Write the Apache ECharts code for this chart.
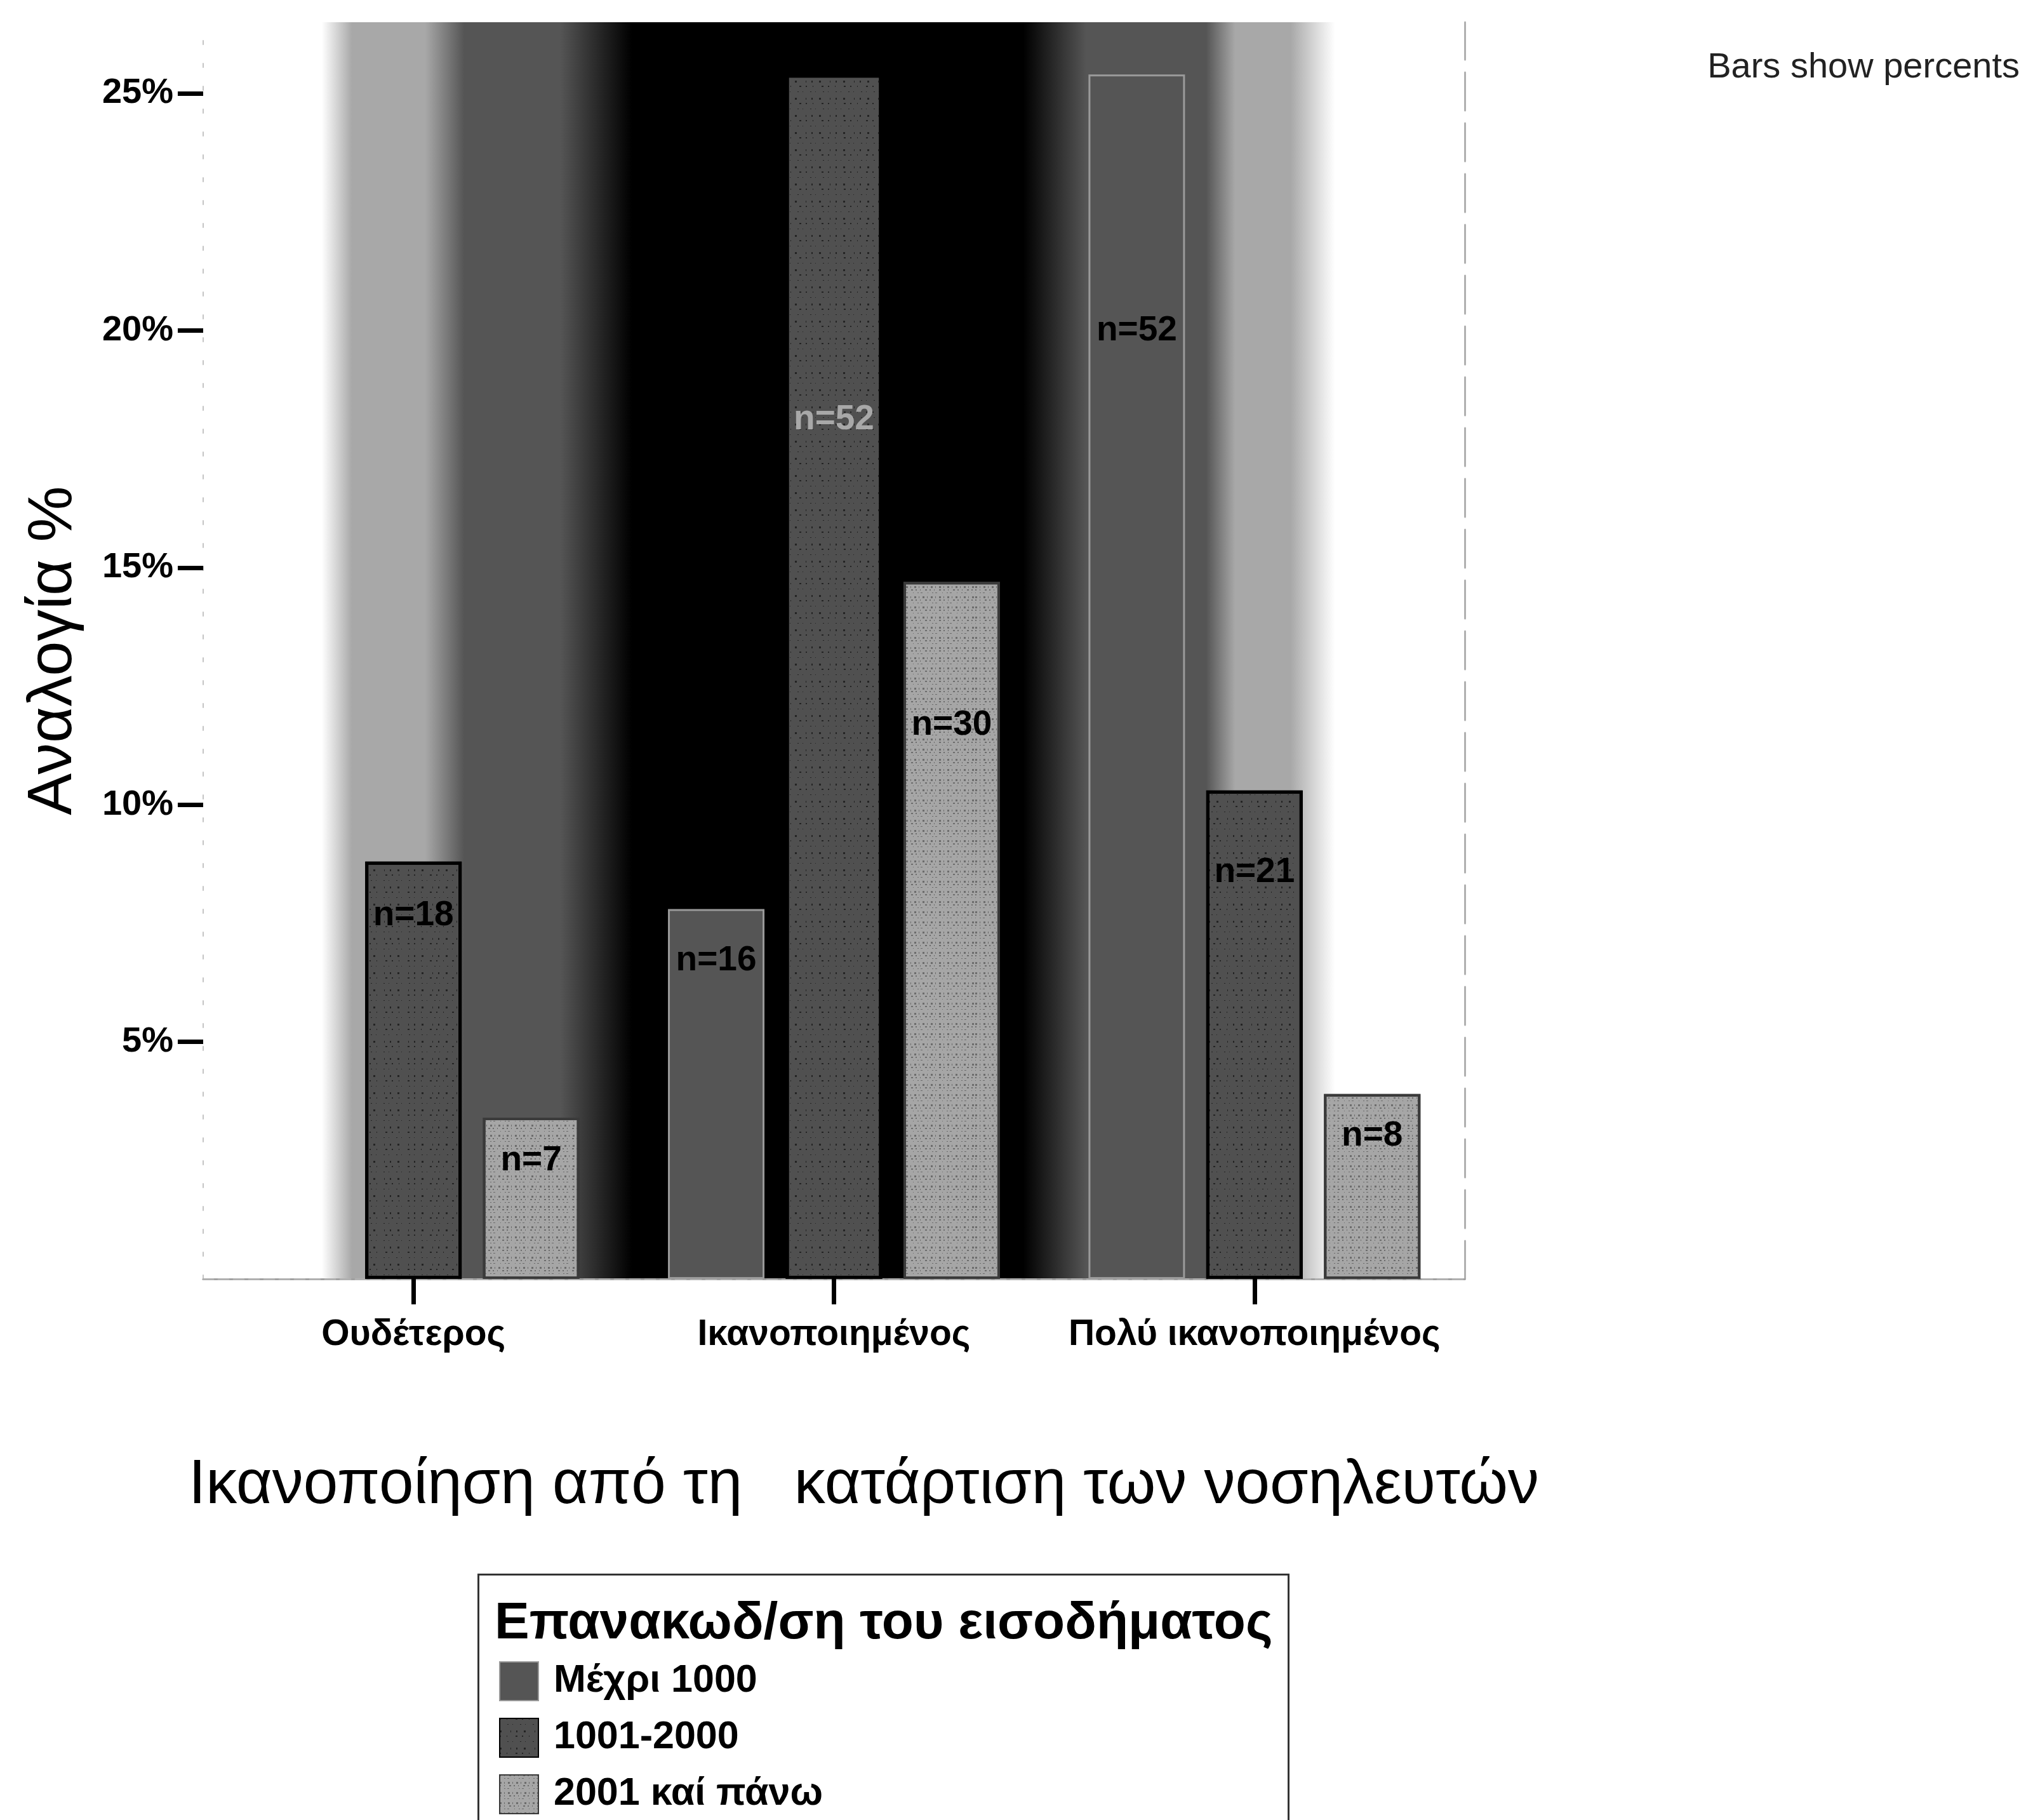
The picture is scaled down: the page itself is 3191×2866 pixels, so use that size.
<!DOCTYPE html>
<html>
<head>
<meta charset="utf-8">
<script src="https://cdn.jsdelivr.net/npm/echarts@6/dist/echarts.min.js"></script>
<style>
  html, body { margin: 0; padding: 0; background: #ffffff; }
  #chart { width: 3191px; height: 2866px; }
</style>
</head>
<body>
<div id="chart"></div>
<script>
// ---- data ----
const categories = ['Ουδέτερος', 'Ικανοποιημένος', 'Πολύ ικανοποιημένος'];
const seriesNames = ['Μέχρι 1000', '1001-2000', '2001 καί πάνω'];
const pctUpTo1000 = [null, 7.8, 25.4];
const pct1001to2000 = [8.8, 25.4, 10.3];
const pct2001up = [3.4, 14.7, 3.9];
const nUpTo1000 = [null, 16, 52];
const n1001to2000 = [18, 52, 21];
const n2001up = [7, 30, 8];
const yTickValues = [5, 10, 15, 20, 25];

// ---- styling (label drop below bar top, px; label colours) ----
const dropUpTo1000 = [0, 81, 404];
const drop1001to2000 = [85, 544, 129];
const drop2001up = [68, 226, 66];
const labelColUpTo1000 = ['#000', '#000', '#000'];
const labelCol1001to2000 = ['#000', '#a8a8a8', '#000'];
const labelCol2001up = ['#000', '#000', '#000'];

const FONT = '"Liberation Sans", Arial, sans-serif';
const LABEL_SIZE = 55;

function buildData(values, drops, cols) {
  return values.map((v, i) => v == null ? '-' : {
    value: v,
    label: { distance: drops[i] - LABEL_SIZE / 2, color: cols[i] }
  });
}

function barSeries(name, values, counts, drops, cols, fill, border, bw, decal) {
  const s = {
    name: name,
    type: 'bar',
    barWidth: 152,
    barGap: '22%',
    data: buildData(values, drops, cols),
    itemStyle: { color: fill, borderColor: border, borderWidth: bw },
    label: {
      show: true,
      position: 'insideTop',
      formatter: p => 'n=' + counts[p.dataIndex],
      fontSize: LABEL_SIZE,
      fontWeight: 'bold',
      fontFamily: FONT,
      color: '#000'
    }
  };
  if (decal) s.itemStyle.decal = decal;
  return s;
}

const chart = echarts.init(document.getElementById('chart'), null, { renderer: 'canvas' });

const bg = new echarts.graphic.LinearGradient(0, 0, 1, 0, [
  { offset: 0, color: '#ffffff' },
  { offset: 0.094, color: '#ffffff' },
  { offset: 0.118, color: '#a8a8a8' },
  { offset: 0.176, color: '#a8a8a8' },
  { offset: 0.207, color: '#555555' },
  { offset: 0.283, color: '#555555' },
  { offset: 0.340, color: '#000000' },
  { offset: 0.650, color: '#000000' },
  { offset: 0.700, color: '#555555' },
  { offset: 0.795, color: '#555555' },
  { offset: 0.818, color: '#a8a8a8' },
  { offset: 0.862, color: '#a8a8a8' },
  { offset: 0.897, color: '#ffffff' },
  { offset: 1, color: '#ffffff' }
]);

const speckDark = {
  symbol: 'rect',
  symbolSize: 1,
  color: 'rgba(0,0,0,0.55)',
  backgroundColor: null,
  dashArrayX: [[2, 9, 1, 13, 3, 7], [1, 11, 2, 6], [3, 14, 1, 8, 2, 10]],
  dashArrayY: [2, 7, 1, 9, 3, 5],
  rotation: 0
};
const speckLight = {
  symbol: 'rect',
  symbolSize: 1,
  color: 'rgba(70,70,70,0.6)',
  backgroundColor: null,
  dashArrayX: [[2, 5, 1, 7, 3, 4], [1, 6, 2, 3, 3, 8], [3, 4, 1, 5]],
  dashArrayY: [2, 3, 1, 5, 3, 2],
  rotation: 0
};

const option = {
  backgroundColor: '#ffffff',
  animation: false,
  textStyle: { fontFamily: FONT },
  title: {
    text: 'Bars show percents',
    right: 5,
    top: 74,
    textStyle: { fontSize: 56, fontWeight: 'normal', color: '#222', fontFamily: FONT }
  },
  grid: {
    show: true,
    left: 320,
    top: 35,
    width: 1987,
    bottom: 852,
    containLabel: false,
    outerBoundsMode: 'none',
    backgroundColor: bg,
    borderWidth: 0
  },
  legend: {
    data: seriesNames,
    orient: 'vertical',
    left: 786,
    top: 2616,
    itemWidth: 61,
    itemHeight: 61,
    itemGap: 26,
    padding: 0,
    icon: 'rect',
    textStyle: { fontSize: 61, fontWeight: 'bold', color: '#000', fontFamily: FONT, padding: [0, 0, 0, 19] }
  },
  xAxis: [
    {
      type: 'category',
      data: categories,
      position: 'bottom',
      axisLine: { lineStyle: { color: '#a0a0a0', width: 3 } },
      axisTick: { show: true, interval: 0, alignWithLabel: true, length: 40, lineStyle: { color: '#000', width: 7 } },
      axisLabel: { interval: 0, hideOverlap: false, fontSize: 57, fontWeight: 'bold', color: '#000', margin: 60, fontFamily: FONT },
      name: 'Ικανοποίηση από τη   κατάρτιση των νοσηλευτών',
      nameLocation: 'middle',
      nameGap: 277,
      nameTextStyle: { fontSize: 98, color: '#000', fontFamily: FONT, padding: [0, 0, 0, 94] }
    },
    {
      type: 'category',
      data: categories,
      position: 'top',
      axisLine: { lineStyle: { color: '#b0b0b0', width: 3, type: [16, 8] } },
      axisTick: { show: false },
      axisLabel: { show: false }
    }
  ],
  yAxis: [
    {
      type: 'value',
      min: 0,
      max: 26.5,
      interval: 5,
      axisLine: { show: true, lineStyle: { color: '#c4c4c4', width: 2, type: [6, 30] } },
      axisTick: { show: true, customValues: yTickValues, length: 40, lineStyle: { color: '#000', width: 7 } },
      axisLabel: {
        customValues: yTickValues,
        formatter: '{value}%',
        fontSize: 56,
        fontWeight: 'bold',
        color: '#000',
        margin: 47,
        fontFamily: FONT
      },
      splitLine: { show: false },
      name: 'Αναλογία %',
      nameLocation: 'middle',
      nameGap: 186,
      nameRotate: 90,
      nameTextStyle: { fontSize: 99, color: '#000', fontFamily: FONT }
    },
    {
      type: 'value',
      position: 'right',
      min: 0,
      max: 26.5,
      axisLine: { show: true, lineStyle: { color: '#b0b0b0', width: 3, type: [60, 20] } },
      axisTick: { show: false },
      axisLabel: { show: false },
      splitLine: { show: false }
    }
  ],
  series: [
    barSeries(seriesNames[0], pctUpTo1000, nUpTo1000, dropUpTo1000, labelColUpTo1000, '#555555', '#9a9a9a', 3, null),
    barSeries(seriesNames[1], pct1001to2000, n1001to2000, drop1001to2000, labelCol1001to2000, '#505050', '#000000', 5, speckDark),
    barSeries(seriesNames[2], pct2001up, n2001up, drop2001up, labelCol2001up, '#a6a6a6', '#3a3a3a', 4, speckLight)
  ],
  graphic: [
    {
      type: 'rect',
      left: 751,
      top: 2477,
      z: -1,
      shape: { width: 1276, height: 500 },
      style: { fill: 'none', stroke: '#333', lineWidth: 3 }
    },
    {
      type: 'text',
      left: 779,
      top: 2516,
      style: { text: 'Επανακωδ/ση του εισοδήματος', font: 'bold 82px "Liberation Sans", Arial, sans-serif', fill: '#000' }
    }
  ]
};

chart.setOption(option);
</script>
</body>
</html>
